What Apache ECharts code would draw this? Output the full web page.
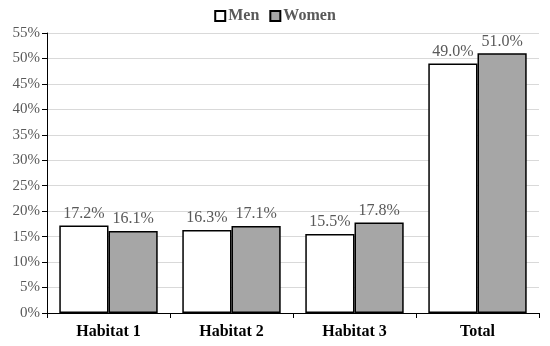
<!DOCTYPE html>
<html><head><meta charset="utf-8">
<script src="https://cdn.jsdelivr.net/npm/echarts@6/dist/echarts.min.js"></script>
<style>html,body{margin:0;padding:0;background:#fff}#c{width:550px;height:346px}</style>
</head><body><div id="c"></div>
<script>
const categories = ['Habitat 1', 'Habitat 2', 'Habitat 3', 'Total'];
const men = [17.2, 16.3, 15.5, 49.0];
const women = [16.1, 17.1, 17.8, 51.0];
const font = 'Liberation Serif';
const chart = echarts.init(document.getElementById('c'));
const lbl = {show: true, position: 'top', distance: 4, color: '#595959', fontFamily: font, fontSize: 16,
  formatter: p => p.value.toFixed(1) + '%'};
chart.setOption({
  animation: false,
  legend: {top: 3, left: 'center', itemWidth: 10, itemHeight: 10, itemGap: 10,
    textStyle: {fontFamily: font, fontWeight: 'bold', fontSize: 16, color: '#595959', padding: [0,0,0,-2]},
    data: [{name: 'Men', icon: 'rect'}, {name: 'Women', icon: 'rect'}]},
  grid: {left: 47, right: 11, top: 33, bottom: 33},
  xAxis: {type: 'category', data: categories,
    axisLine: {lineStyle: {color: '#000', width: 1}},
    axisTick: {show: true, length: 5, lineStyle: {color: '#000'}},
    axisLabel: {fontFamily: font, fontWeight: 'bold', fontSize: 16, color: '#000', margin: 11}},
  yAxis: {type: 'value', min: 0, max: 55, interval: 5,
    axisLine: {show: true, lineStyle: {color: '#000'}},
    axisTick: {show: true, length: 5, lineStyle: {color: '#000'}},
    splitLine: {lineStyle: {color: '#d9d9d9'}},
    axisLabel: {fontFamily: font, fontSize: 15, color: '#595959', formatter: v => v + '%', margin: 7}},
  series: [
    {name: 'Men', type: 'bar', data: men, barGap: '0%', barCategoryGap: '20%',
      itemStyle: {color: '#fff', borderColor: '#000', borderWidth: 1.5}, label: lbl},
    {name: 'Women', type: 'bar', data: women,
      itemStyle: {color: '#a6a6a6', borderColor: '#000', borderWidth: 1.5}, label: lbl}
  ]
});
</script></body></html>
